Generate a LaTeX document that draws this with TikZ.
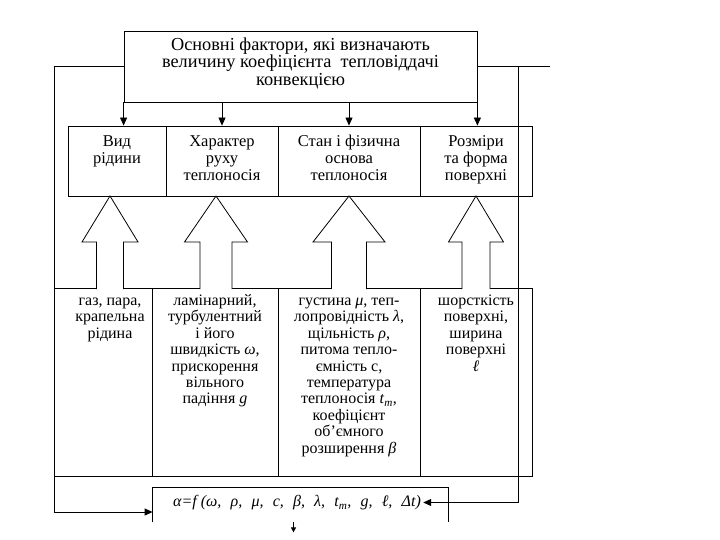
\documentclass[tikz,border=0pt]{standalone}
\usepackage{fontspec}
\setmainfont{Liberation Serif}
\usetikzlibrary{arrows.meta,positioning}
\newcommand{\firstline}{\rule{0pt}{11.5pt}}
\newcommand{\capline}{\rule{0pt}{13pt}}
\newcommand{\gap}{\hspace{9.2pt}}
\tikzset{
  box/.style={draw, inner sep=0pt},
  txt/.style={align=center, inner sep=0pt},
  headtxt/.style={txt, font=\fontsize{18.3}{17.3}\selectfont},
  factxt/.style={txt, font=\fontsize{16.5}{17}\selectfont},
  dettxt/.style={txt, font=\fontsize{16}{16.4}\selectfont},
  >={Triangle[length=8pt,width=7pt]}
}
\begin{document}
\begin{tikzpicture}[x=1pt,y=-1pt,line width=0.8pt]
\useasboundingbox (0,0) rectangle (720,540);
% top box
\node[box, minimum width=353pt, minimum height=71pt] (main) at (300.5,66.5) {};
\node[headtxt, below=7pt of main.north] (maintext) {Основні фактори, які визначають\\величину коефіцієнта \ тепловіддачі\\конвекцією};
% factors
\node[box, minimum width=98pt, minimum height=70pt] (kind) at (117,161) {};
\node[box, minimum width=112pt, minimum height=70pt] (motion) at (222,161) {};
\node[box, minimum width=142pt, minimum height=70pt] (state) at (349,161) {};
\node[box, minimum width=112pt, minimum height=70pt] (geom) at (476,161) {};
\node[factxt, below=7.5pt of kind.north] (kindtext) {\capline Вид\\рідини};
\node[factxt, below=7.5pt of motion.north] (motiontext) {\capline Характер\\руху\\теплоносія};
\node[factxt, below=7.5pt of state.north] (statetext) {\capline Стан і фізична\\основа\\теплоносія};
\node[factxt, below=7.5pt of geom.north] (geomtext) {\capline Розміри\\та форма\\поверхні};
% details
\node[box, minimum width=98pt, minimum height=188pt] (kinddet) at (103,382) {};
\node[box, minimum width=126pt, minimum height=188pt] (motiondet) at (215,382) {};
\node[box, minimum width=142pt, minimum height=188pt] (statedet) at (349,382) {};
\node[box, minimum width=112pt, minimum height=188pt] (geomdet) at (476,382) {};
\node[dettxt, below=6pt of kinddet.north, xshift=7pt] (kinddettext) {\firstline газ, пара,\\крапельна\\рідина};
\node[dettxt, below=6pt of motiondet.north] (motiondettext) {\firstline ламінарний,\\турбулентний\\і його\\швидкість \textit{ω},\\прискорення\\вільного\\падіння \textit{g}};
\node[dettxt, below=6pt of statedet.north] (statedettext) {\firstline густина \textit{μ}, теп-\\лопровідність \textit{λ},\\щільність \textit{ρ},\\питома тепло-\\ємність c,\\температура\\теплоносія \textit{t}\textsubscript{\textit{m}},\\коефіцієнт\\об’ємного\\розширення \textit{β}};
\node[dettxt, below=6pt of geomdet.north] (geomdettext) {\firstline шорсткість\\поверхні,\\ширина\\поверхні\\\textit{ℓ}};
% hollow arrows
\foreach \x/\h/\s in {110/28/13.5, 216/31.5/16, 349/36/17.5, 476/27.5/14}
  \draw[fill=white] (\x-\s,289) -- (\x-\s,242) -- (\x-\h,242) -- (\x,196)
    -- (\x+\h,242) -- (\x+\s,242) -- (\x+\s,289);
% result
\node[minimum width=295pt, minimum height=34pt, inner sep=0pt] (lawbox) at (300.5,505) {};
\draw (lawbox.south west) -- (lawbox.north west) -- (lawbox.north east) -- (lawbox.south east);
\node[inner sep=0pt, font=\fontsize{16}{16}\selectfont] (formula) at (297,502.5) {\textit{α=f (ω,\gap ρ,\gap μ,\gap c,\gap β,\gap λ,\gap t\textsubscript{m},\gap g,\gap ℓ,\gap Δt)}};
% connectors
\draw[->] (main.south west) -- (main.south west |- kind.north);
\draw[->] (motion.north |- main.south) -- (motion.north);
\draw[->] (state.north |- main.south) -- (state.north);
\draw[->] (main.south east) -- (main.south east |- geom.north);
\draw[->] (main.west) -| (54,512) -- (lawbox.west |- 0,512);
\draw (main.east) -- (550,66.5);
\draw[->] (518,66.5) |- ([xshift=2pt]formula.east);
\draw[-{Triangle[length=5pt,width=5pt]}] ([xshift=-7pt]lawbox.south) -- ++(0,10);
\end{tikzpicture}
\end{document}
